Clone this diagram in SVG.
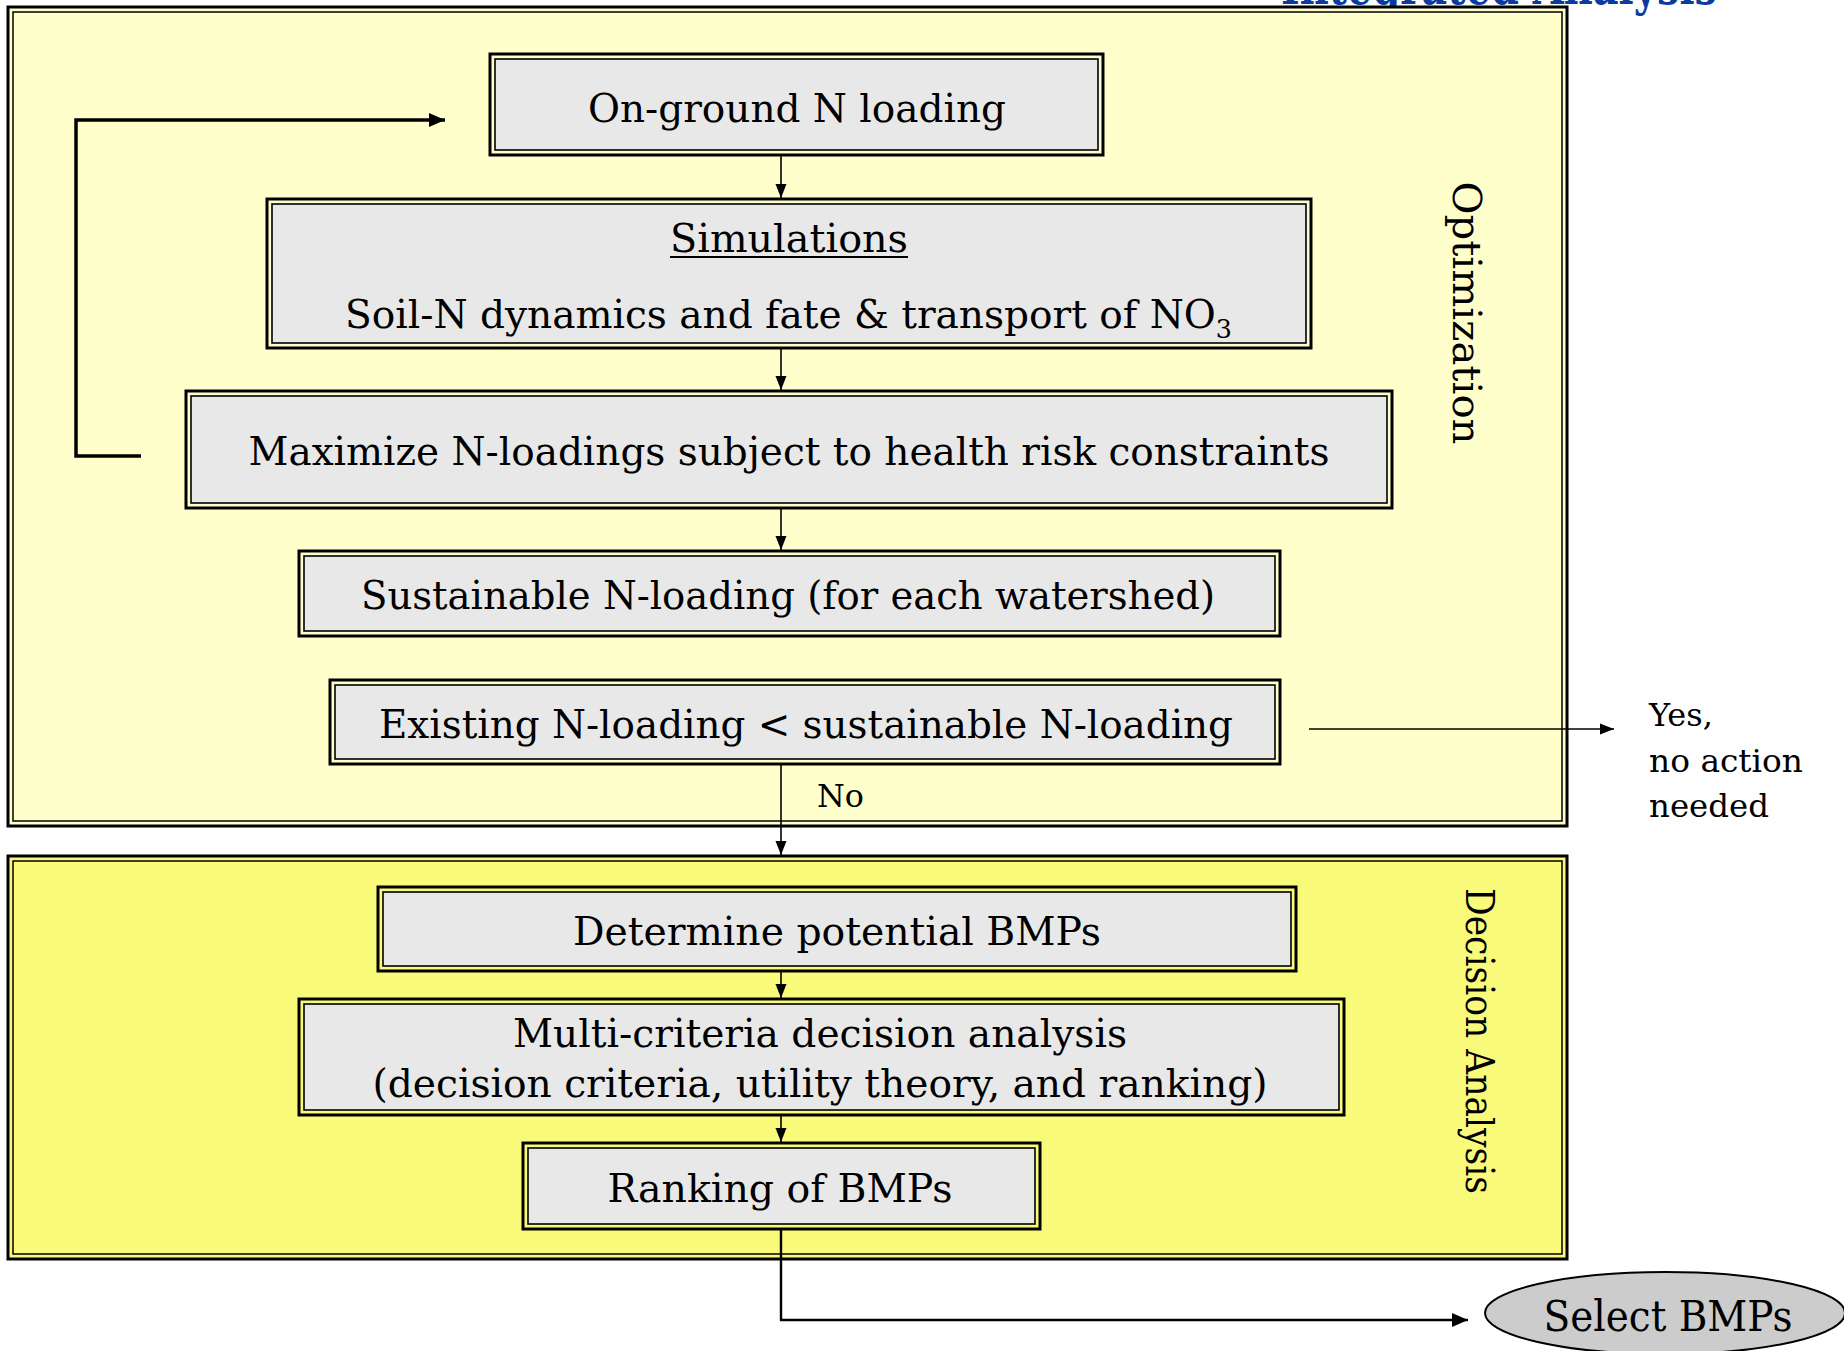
<svg xmlns="http://www.w3.org/2000/svg" width="1844" height="1351" viewBox="0 0 1844 1351">
<defs>
<style>
.t{font-family:"DejaVu Serif","Liberation Serif",serif;font-size:40px;fill:#000;text-anchor:middle}
.s{font-family:"DejaVu Serif","Liberation Serif",serif;font-size:32px;fill:#000}
.ob{fill:none;stroke:#000;stroke-width:3}
.ib{fill:#E8E8E8;stroke:#000;stroke-width:1.6}
.c{fill:none;stroke:#000;stroke-width:1.6}
.sub{font-size:26px}
</style>
<marker id="a" markerUnits="userSpaceOnUse" markerWidth="14" markerHeight="14" viewBox="0 0 14 14" refX="14" refY="7" orient="auto"><path d="M0,1.5 L14,7 L0,12.5 Z" fill="#000"/></marker>
<marker id="b" markerUnits="userSpaceOnUse" markerWidth="16" markerHeight="16" viewBox="0 0 16 16" refX="16" refY="8" orient="auto"><path d="M0,1 L16,8 L0,15 Z" fill="#000"/></marker>
</defs>
<rect width="1844" height="1351" fill="#fff"/>
<text x="1499" y="4" font-family="DejaVu Serif,serif" font-weight="bold" font-size="52" fill="#0A3C9E" text-anchor="middle" textLength="436" lengthAdjust="spacingAndGlyphs">Integrated Analysis</text>

<g id="optimization">
<rect x="8" y="7" width="1559" height="819" fill="#FFFFCC" stroke="#000" stroke-width="3"/>
<rect x="13" y="12" width="1549" height="809" fill="#FFFFCC" stroke="#000" stroke-width="1.5"/>
<text transform="rotate(90 1453 313)" x="1453" y="313" class="t" textLength="263" lengthAdjust="spacingAndGlyphs">Optimization</text>
</g>
<g id="decision-analysis">
<rect x="8" y="856" width="1559" height="403" fill="#FAFA7A" stroke="#000" stroke-width="3"/>
<rect x="13" y="861" width="1549" height="393" fill="#FAFA7A" stroke="#000" stroke-width="1.5"/>
<text transform="rotate(90 1466 1041)" x="1466" y="1041" class="t" textLength="306" lengthAdjust="spacingAndGlyphs">Decision Analysis</text>
</g>

<g id="connectors">
<path class="c" d="M781,155 V198" marker-end="url(#a)"/>
<path class="c" d="M781,348 V390" marker-end="url(#a)"/>
<path class="c" d="M781,508 V550" marker-end="url(#a)"/>
<path class="c" d="M781,764 V855" marker-end="url(#a)"/>
<path class="c" d="M781,971 V998" marker-end="url(#a)"/>
<path class="c" d="M781,1115 V1142" marker-end="url(#a)"/>
<path class="c" d="M1309,729 H1614" marker-end="url(#a)"/>
<path fill="none" stroke="#000" stroke-width="2.4" d="M781,1229 V1320 H1468" marker-end="url(#b)"/>
<path fill="none" stroke="#000" stroke-width="3.5" d="M141,456 H76 V120 H445" marker-end="url(#b)"/>
<text x="817" y="807" class="s" textLength="47" lengthAdjust="spacingAndGlyphs">No</text>
<text x="1649" y="726" class="s">Yes,</text>
<text x="1649" y="772" class="s" textLength="154" lengthAdjust="spacingAndGlyphs">no action</text>
<text x="1649" y="817" class="s" textLength="120" lengthAdjust="spacingAndGlyphs">needed</text>
</g>

<g id="n1">
<rect class="ob" x="490" y="54" width="613" height="101"/>
<rect class="ib" x="495" y="59" width="603" height="91"/>
<text x="797" y="122" class="t" textLength="418" lengthAdjust="spacingAndGlyphs">On-ground N loading</text>
</g>
<g id="n2">
<rect class="ob" x="267" y="199" width="1044" height="149"/>
<rect class="ib" x="272" y="204" width="1034" height="139"/>
<text x="789" y="252" class="t" textLength="238" lengthAdjust="spacingAndGlyphs">Simulations</text>
<line x1="670" y1="257" x2="908" y2="257" stroke="#000" stroke-width="2"/>
<text x="345" y="328" class="t" style="text-anchor:start" textLength="887" lengthAdjust="spacingAndGlyphs">Soil-N dynamics and fate &amp; transport of NO<tspan class="sub" dy="10">3</tspan></text>
</g>
<g id="n3">
<rect class="ob" x="186" y="391" width="1206" height="117"/>
<rect class="ib" x="191" y="396" width="1196" height="107"/>
<text x="789" y="465" class="t" textLength="1081" lengthAdjust="spacingAndGlyphs">Maximize N-loadings subject to health risk constraints</text>
</g>
<g id="n4">
<rect class="ob" x="299" y="551" width="981" height="85"/>
<rect class="ib" x="304" y="556" width="971" height="75"/>
<text x="788" y="609" class="t" textLength="854" lengthAdjust="spacingAndGlyphs">Sustainable N-loading (for each watershed)</text>
</g>
<g id="n5">
<rect class="ob" x="330" y="680" width="950" height="84"/>
<rect class="ib" x="335" y="685" width="940" height="74"/>
<text x="806" y="738" class="t" textLength="854" lengthAdjust="spacingAndGlyphs">Existing N-loading &lt; sustainable N-loading</text>
</g>
<g id="n6">
<rect class="ob" x="378" y="887" width="918" height="84"/>
<rect class="ib" x="383" y="892" width="908" height="74"/>
<text x="837" y="945" class="t" textLength="528" lengthAdjust="spacingAndGlyphs">Determine potential BMPs</text>
</g>
<g id="n7">
<rect class="ob" x="299" y="999" width="1045" height="116"/>
<rect class="ib" x="304" y="1004" width="1035" height="106"/>
<text x="820" y="1047" class="t" textLength="614" lengthAdjust="spacingAndGlyphs">Multi-criteria decision analysis</text>
<text x="820" y="1097" class="t" textLength="895" lengthAdjust="spacingAndGlyphs">(decision criteria, utility theory, and ranking)</text>
</g>
<g id="n8">
<rect class="ob" x="523" y="1143" width="517" height="86"/>
<rect class="ib" x="528" y="1148" width="507" height="76"/>
<text x="780" y="1202" class="t" textLength="345" lengthAdjust="spacingAndGlyphs">Ranking of BMPs</text>
</g>
<g id="n9">
<ellipse cx="1665" cy="1313" rx="180" ry="41" fill="#CCCCCC" stroke="#000" stroke-width="2"/>
<text x="1668" y="1331" class="t" style="font-size:42px" textLength="249" lengthAdjust="spacingAndGlyphs">Select BMPs</text>
</g>
</svg>
